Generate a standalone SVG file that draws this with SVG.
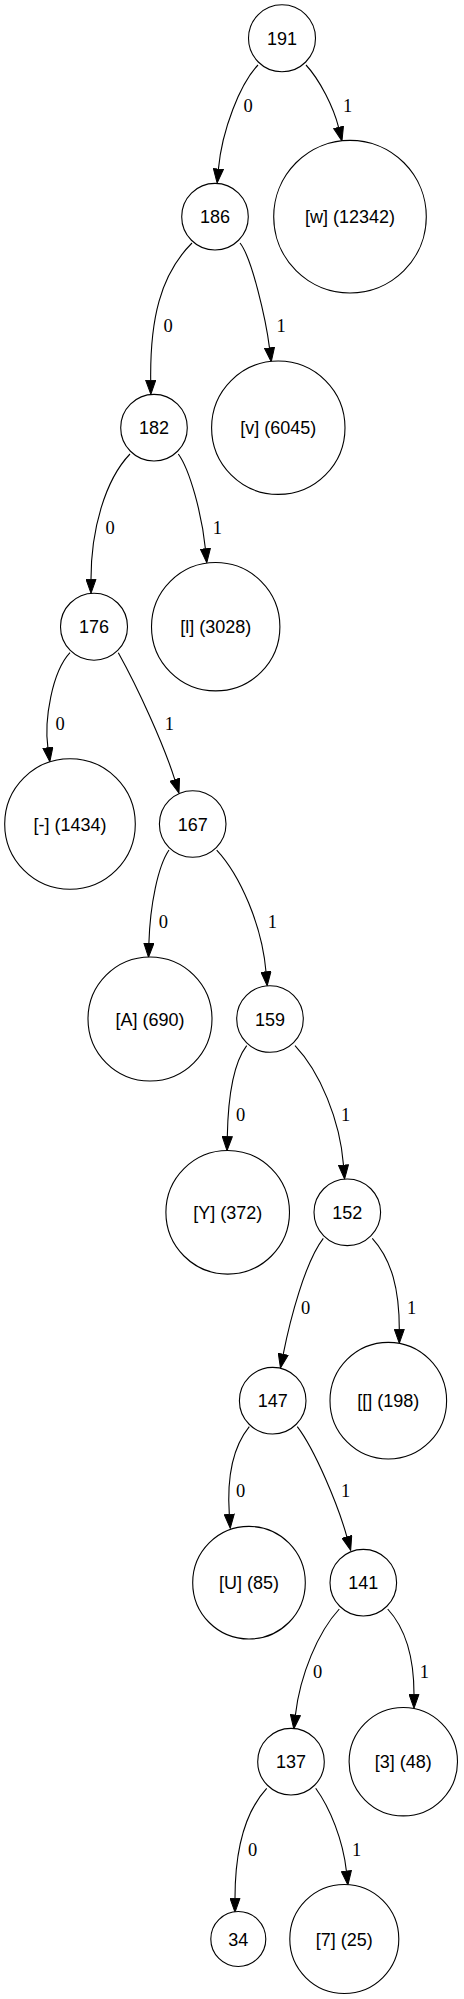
<svg xmlns="http://www.w3.org/2000/svg" width="464" height="1999" viewBox="0 0 464 1999">
<style>
.node circle{fill:#fff;stroke:#000;stroke-width:1.1}
.node text{font-family:"Liberation Sans",Arial,sans-serif;font-size:18px;text-anchor:middle;fill:#000}
.edge path{fill:none;stroke:#000;stroke-width:1.1;marker-end:url(#arr)}
.edge text{font-family:"Liberation Serif","Times New Roman",serif;font-size:18.5px;text-anchor:middle;fill:#000}
</style>
<defs>
<marker id="arr" markerUnits="userSpaceOnUse" markerWidth="15" markerHeight="11" viewBox="0 0 15 11" refX="0.5" refY="5.5" orient="auto">
<path d="M0.5,0.5 L14.5,5.5 L0.5,10.5 z" fill="#000" stroke="#000" stroke-width="1"/>
</marker>
</defs>
<rect width="464" height="1999" fill="#fff"/>
<g id="connectors" class="edge">
<path d="M258,65 C240,84 222,130 218.4,169.1"/><text x="248" y="112.4">0</text>
<path d="M306,65 C320,80 333.8,108 338.6,127.4"/><text x="347.5" y="112.4">1</text>
<path d="M192,243 C160,275 150,320 150.7,380.3"/><text x="168" y="332.4">0</text>
<path d="M240,243 C252,258 266,320 269.5,347.9"/><text x="281" y="332.4">1</text>
<path d="M130,454 C105,480 91,530 91,579.3"/><text x="110" y="534.1">0</text>
<path d="M178.3,454 C190,470 202,515 205.4,548.8"/><text x="217.3" y="534.1">1</text>
<path d="M70,652.7 C52,672 44,720 47.9,747.8"/><text x="60" y="729.7">0</text>
<path d="M118.3,652.7 C138,688 164,745 174.8,779.7"/><text x="169.3" y="729.7">1</text>
<path d="M169,850 C158,866 150,905 148.9,943.3"/><text x="163.3" y="928.1">0</text>
<path d="M216.7,850 C240,875 262,925 266,971.8"/><text x="272.3" y="928.1">1</text>
<path d="M246.7,1045.7 C232,1065 228,1100 227.3,1136.7"/><text x="240.7" y="1120.7">0</text>
<path d="M295,1045.7 C320,1072 340,1120 343.5,1165.1"/><text x="345.7" y="1120.7">1</text>
<path d="M323.3,1238.3 C305,1262 290,1320 283.2,1354.3"/><text x="305.7" y="1313.7">0</text>
<path d="M372.3,1238.3 C392,1260 399.3,1290 399.3,1329.3"/><text x="411.7" y="1313.7">1</text>
<path d="M249.3,1426.7 C232,1448 227,1480 229.3,1514.3"/><text x="240.7" y="1497.4">0</text>
<path d="M297.3,1426.7 C315,1450 338,1505 346.9,1536.8"/><text x="345.7" y="1497.4">1</text>
<path d="M339.3,1609 C318,1632 300,1675 295.4,1715.1"/><text x="317.7" y="1678.1">0</text>
<path d="M387.7,1609 C407,1630 414,1660 414,1694.3"/><text x="424.3" y="1678.1">1</text>
<path d="M266.7,1788.3 C245,1812 235,1850 235,1898.3"/><text x="252.7" y="1856.4">0</text>
<path d="M315.7,1788.3 C330,1808 343,1840 346.4,1871.1"/><text x="356.7" y="1856.4">1</text>
</g>
<g id="n191" class="node"><circle cx="282" cy="38.3" r="33.5"/><text x="282" y="44.8">191</text></g>
<g id="n186" class="node"><circle cx="215" cy="216.7" r="33.3"/><text x="215" y="223.2">186</text></g>
<g id="leaf_w" class="node"><circle cx="350" cy="216.7" r="76.3"/><text x="350" y="223.2">[w] (12342)</text></g>
<g id="n182" class="node"><circle cx="154" cy="427.7" r="33.3"/><text x="154" y="434.2">182</text></g>
<g id="leaf_v" class="node"><circle cx="278.3" cy="427.7" r="66.7"/><text x="278.3" y="434.2">[v] (6045)</text></g>
<g id="n176" class="node"><circle cx="94" cy="626.7" r="33.5"/><text x="94" y="633.2">176</text></g>
<g id="leaf_l" class="node"><circle cx="215.7" cy="626.7" r="64.2"/><text x="215.7" y="633.2">[l] (3028)</text></g>
<g id="leaf_dash" class="node"><circle cx="70" cy="824" r="65.3"/><text x="70" y="830.5">[-] (1434)</text></g>
<g id="n167" class="node"><circle cx="192.7" cy="824" r="33.3"/><text x="192.7" y="830.5">167</text></g>
<g id="leaf_A" class="node"><circle cx="150" cy="1019" r="62"/><text x="150" y="1025.5">[A] (690)</text></g>
<g id="n159" class="node"><circle cx="270" cy="1019" r="33.3"/><text x="270" y="1025.5">159</text></g>
<g id="leaf_Y" class="node"><circle cx="227.7" cy="1212.3" r="61.8"/><text x="227.7" y="1218.8">[Y] (372)</text></g>
<g id="n152" class="node"><circle cx="347.3" cy="1212.3" r="33.3"/><text x="347.3" y="1218.8">152</text></g>
<g id="leaf_bracket" class="node"><circle cx="388.3" cy="1400.7" r="58.3"/><text x="388.3" y="1407.2">[[] (198)</text></g>
<g id="n147" class="node"><circle cx="272.7" cy="1400.7" r="33.3"/><text x="272.7" y="1407.2">147</text></g>
<g id="leaf_U" class="node"><circle cx="249" cy="1582.7" r="56.3"/><text x="249" y="1589.2">[U] (85)</text></g>
<g id="n141" class="node"><circle cx="363.3" cy="1582.7" r="33.3"/><text x="363.3" y="1589.2">141</text></g>
<g id="n137" class="node"><circle cx="291" cy="1761.7" r="33.3"/><text x="291" y="1768.2">137</text></g>
<g id="leaf_3" class="node"><circle cx="403.3" cy="1761.7" r="54.2"/><text x="403.3" y="1768.2">[3] (48)</text></g>
<g id="n34" class="node"><circle cx="238.3" cy="1939" r="27.5"/><text x="238.3" y="1945.5">34</text></g>
<g id="leaf_7" class="node"><circle cx="344.3" cy="1939" r="54.5"/><text x="344.3" y="1945.5">[7] (25)</text></g>
</svg>
